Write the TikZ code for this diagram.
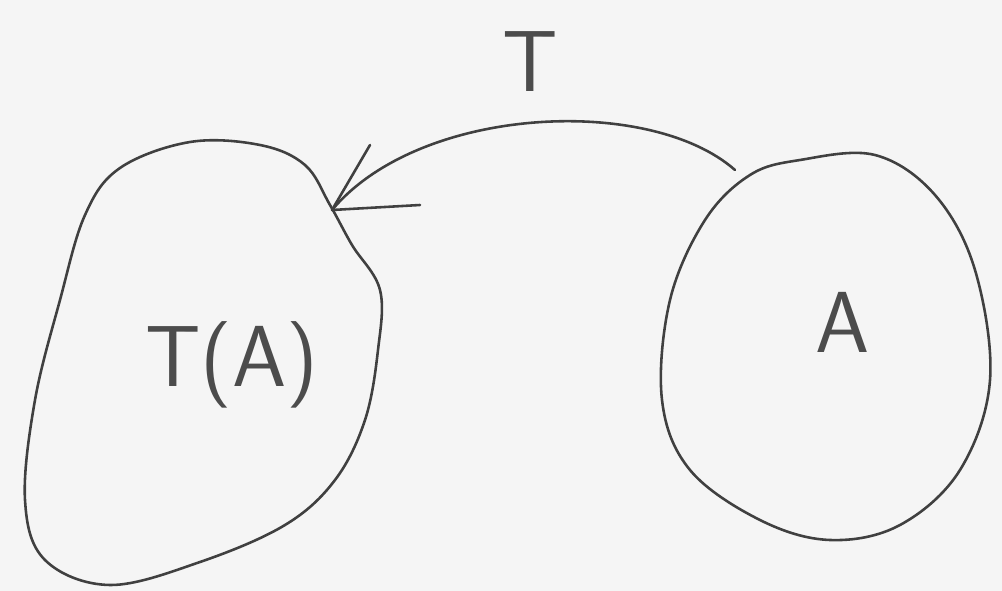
\documentclass[tikz,border=0pt]{standalone}
\usepackage{fontspec}
\setmainfont{DejaVu Sans}
\begin{document}
\begin{tikzpicture}[x=0.03cm,y=-0.03cm,
  pen/.style={draw=black!75,line width=2.2pt,line cap=round,line join=round},
  hand/.style={text=black!70,font=\fontsize{74}{74}\selectfont\sffamily}]
\useasboundingbox[fill=black!4] (0,0) rectangle (1002,591);
% left blob
\draw[pen] plot[smooth cycle,tension=0.6] coordinates {
 (120,168) (190,142) (260,145) (305,165) (330,205) (352,245) (380,290)
 (378,350) (365,420) (335,480) (285,525) (200,562) (110,585) (45,560)
 (25,500) (35,400) (60,300) (85,215)};
% right blob
\draw[pen] plot[smooth cycle,tension=0.6] coordinates {
 (800,160) (875,155) (935,195) (975,270) (990,380) (960,470) (900,525)
 (830,540) (760,520) (690,470) (662,400) (670,300) (705,220) (750,175)};
\coordinate (src) at (735,170);
\coordinate (tip) at (332,210);
\node[hand] (ta) at (232,365) {T(A)};
\node[hand] (a) at (843,322) {A};
\node[hand] (t) at (530,62) {T};
\draw[pen] (src) .. controls (650,95) and (420,105) .. (tip);
\draw[pen] (tip) -- ++(38,-65);
\draw[pen] (tip) -- ++(88,-5);
\end{tikzpicture}
\end{document}
